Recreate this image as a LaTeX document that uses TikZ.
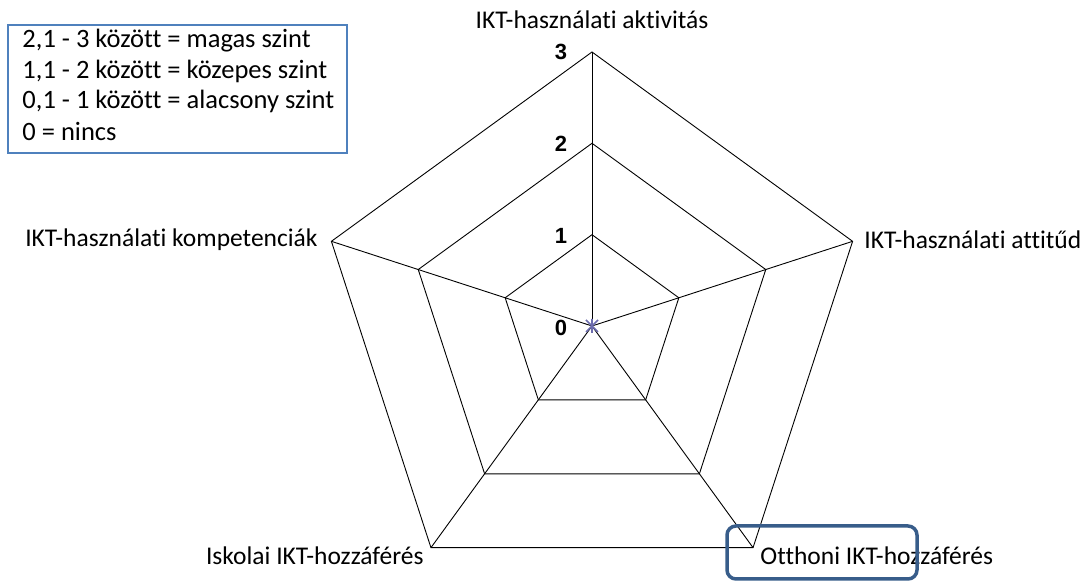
\documentclass[tikz,border=0pt]{standalone}
\usepackage{fontspec}
\setmainfont{Carlito}[Ligatures={NoCommon}]
\newfontfamily\numfont{Liberation Sans}
\definecolor{legendblue}{HTML}{4F81BD}
\definecolor{boxblue}{HTML}{385D8A}
\definecolor{markpurple}{HTML}{6C6CAE}
\tikzset{
  axislabel/.style={font=\fontsize{25.5}{30}\selectfont, inner sep=0pt},
  levellabel/.style={font=\numfont\bfseries\fontsize{22}{24}\selectfont, inner sep=0pt},
  legendline/.style={font=\fontsize{26.5}{30}\selectfont, inner sep=0pt, anchor=west}
}
\begin{document}
\begin{tikzpicture}[x=1pt,y=1pt,line width=0.9pt]
  \useasboundingbox (0,0) rectangle (1088,583);
  \coordinate (c) at (592,257);
  % pentagon rings
  \foreach \r in {91.3,182.7,274}
    \draw[shift={(c)}] (90:\r) -- (18:\r) -- (-54:\r) -- (-126:\r) -- (162:\r) -- cycle;
  \draw[shift={(c)}]
    (90:274) coordinate (a0)
    (18:274) coordinate (a1)
    (-54:274) coordinate (a2)
    (-126:274) coordinate (a3)
    (162:274) coordinate (a4);
  \begin{scope}[-]
    \draw (c) to (a0);
    \draw (c) to (a1);
    \draw (c) to (a2);
    \draw (c) to (a3);
    \draw (c) to (a4);
  \end{scope}
  % level numbers
  \node[levellabel] (l3) at (561,531) {3};
  \node[levellabel] (l2) at (561,439) {2};
  \node[levellabel] (l1) at (561,347) {1};
  \node[levellabel] (l0) at (561,255) {0};
  % centre mark
  \draw[markpurple, line width=1.6pt]
    ([shift={(-6,-6)}]c) -- ([shift={(6,6)}]c)
    ([shift={(-6,6)}]c) -- ([shift={(6,-6)}]c)
    ([shift={(0,-7)}]c) -- ([shift={(0,7)}]c);
  % axis names
  \node[axislabel] (t0) at (592,563) {IKT-használati aktivitás};
  \node[axislabel, anchor=west] (t1) at (864,343) {IKT-használati attitűd};
  \node[axislabel, anchor=west] (t2) at (760,27) {Otthoni IKT-hozzáférés};
  \node[axislabel, anchor=east] (t3) at (424,27) {Iskolai IKT-hozzáférés};
  \node[axislabel, anchor=east] (t4) at (318,343) {IKT-használati kompetenciák};
  % legend
  \draw[legendblue, line width=1.5pt] (8,558) rectangle (347,430);
  \node[legendline] (g1) at (22,542) {2,1 - 3 között = magas szint};
  \node[legendline] (g2) at (22,512) {1,1 - 2 között = közepes szint};
  \node[legendline] (g3) at (22,482) {0,1 - 1 között = alacsony szint};
  \node[legendline] (g4) at (22,452) {0 = nincs};
  % highlight
  \draw[boxblue, line width=3.5pt, rounded corners=9pt] (727,57) rectangle (917,4);
\end{tikzpicture}
\end{document}
